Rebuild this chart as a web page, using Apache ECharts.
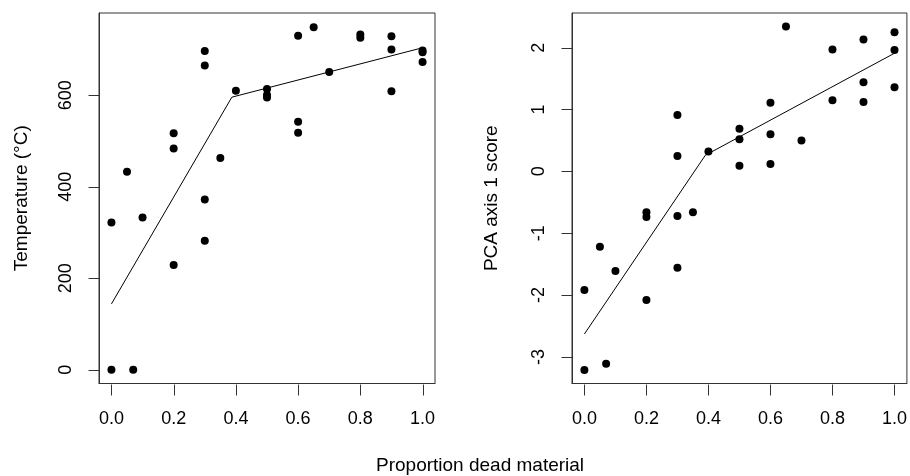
<!DOCTYPE html>
<html>
<head>
<meta charset="utf-8">
<script src="https://cdn.jsdelivr.net/npm/echarts@6/dist/echarts.min.js"></script>
<style>
html,body{margin:0;padding:0;background:#fff;}
#chart{width:910px;height:476px;}
</style>
</head>
<body>
<div id="chart"></div>
<script>
// ---- data ----
const xTicks = [0, 0.2, 0.4, 0.6, 0.8, 1.0];
const tempTicks = [0, 200, 400, 600];
const pcaTicks = [-3, -2, -1, 0, 1, 2];

const tempX = [0.0, 0.05, 0.1, 0.2, 0.2, 0.3, 0.3, 0.3, 0.3, 0.2, 0.0, 0.07, 0.35, 0.4, 0.5, 0.5, 0.5, 0.6, 0.6, 0.6, 0.65, 0.7, 0.8, 0.8, 0.9, 0.9, 0.9, 1.0, 1.0, 1.0];
const tempY = [322, 433, 333, 517, 484, 697, 665, 372, 282, 229, 0, 0, 463, 610, 614, 601, 595, 730, 542, 518, 749, 651, 733, 726, 729, 700, 609, 698, 694, 673];
const tempFitX = [0.0, 0.387, 1.0];
const tempFitY = [144, 596, 704];

const pcaX = [0.65, 1.0, 1.0, 1.0, 0.9, 0.9, 0.9, 0.8, 0.8, 0.6, 0.6, 0.6, 0.7, 0.5, 0.5, 0.5, 0.4, 0.3, 0.3, 0.3, 0.35, 0.2, 0.2, 0.05, 0.1, 0.3, 0.0, 0.2, 0.0, 0.07];
const pcaY = [2.34, 2.25, 1.96, 1.36, 2.13, 1.44, 1.12, 1.97, 1.15, 1.11, 0.60, 0.12, 0.50, 0.69, 0.52, 0.09, 0.32, 0.91, 0.25, -0.72, -0.66, -0.66, -0.74, -1.22, -1.61, -1.56, -1.92, -2.08, -3.21, -3.11];
const pcaFitX = [0.0, 0.39, 1.0];
const pcaFitY = [-2.63, 0.26, 1.91];

// ---- chart ----
const FONT = 'Liberation Sans, Arial, sans-serif';
const FS = 18;
const TFS = 19;
const txt = '#000';
const axisCol = '#333';
const TICK = 11;
const xRange = [-0.04, 1.04];
const tempRange = [-30, 780];
const pcaRange = [-3.43, 2.56];

function zip(a, b) { return a.map((v, i) => [v, b[i]]); }

function xAxisCfg(gridIndex) {
  return {
    type: 'value', gridIndex, min: xRange[0], max: xRange[1],
    axisLine: { show: true, onZero: false, lineStyle: { color: axisCol, width: 1 } },
    splitLine: { show: false },
    axisTick: { show: false },
    axisLabel: { show: true, customValues: xTicks, margin: 27, color: txt, fontFamily: FONT, fontSize: FS,
      formatter: v => v.toFixed(1) }
  };
}
function yAxisCfg(gridIndex, range, ticks, name, gap) {
  return {
    type: 'value', gridIndex, min: range[0], max: range[1],
    name, nameLocation: 'middle', nameGap: gap,
    nameTextStyle: { color: txt, fontFamily: FONT, fontSize: TFS },
    axisLine: { show: true, onZero: false, lineStyle: { color: axisCol, width: 1 } },
    splitLine: { show: false },
    axisTick: { show: false },
    axisLabel: { show: true, customValues: ticks, margin: 24, rotate: 90, color: txt, fontFamily: FONT, fontSize: FS,
      formatter: v => String(v) }
  };
}

// tick marks: custom series, positioned through the axes' own scales
function tickSeries(idx, dir, values, edge) {
  return {
    type: 'custom', xAxisIndex: idx, yAxisIndex: idx, silent: true, clip: false, z: 10,
    data: values.map(v => dir === 'x' ? [v, edge] : [edge, v]),
    renderItem: function (params, api) {
      const p = api.coord([api.value(0), api.value(1)]);
      const x = Math.round(p[0]) + 0.5, y = Math.round(p[1]) + 0.5;
      const shape = dir === 'x'
        ? { x1: x, y1: y, x2: x, y2: y + TICK }
        : { x1: x - TICK, y1: y, x2: x, y2: y };
      return { type: 'line', shape, style: { stroke: axisCol, lineWidth: 1 } };
    }
  };
}

const chart = echarts.init(document.getElementById('chart'), null, { renderer: 'canvas' });
chart.setOption({
  animation: false,
  backgroundColor: '#fff',
  grid: [
    { left: 99, right: 475, top: 13, bottom: 92.5, show: true, borderColor: axisCol, borderWidth: 1, backgroundColor: 'transparent' },
    { left: 572, right: 1, top: 13, bottom: 92.5, show: true, borderColor: axisCol, borderWidth: 1, backgroundColor: 'transparent' }
  ],
  xAxis: [xAxisCfg(0), xAxisCfg(1)],
  yAxis: [
    yAxisCfg(0, tempRange, tempTicks, 'Temperature (°C)', 68),
    yAxisCfg(1, pcaRange, pcaTicks, 'PCA axis 1 score', 71)
  ],
  graphic: [{
    type: 'text', left: 376, top: 456,
    style: { text: 'Proportion dead material', fill: txt, font: TFS + 'px ' + FONT }
  }],
  series: [
    tickSeries(0, 'x', xTicks, tempRange[0]),
    tickSeries(0, 'y', tempTicks, xRange[0]),
    tickSeries(1, 'x', xTicks, pcaRange[0]),
    tickSeries(1, 'y', pcaTicks, xRange[0]),
    { type: 'scatter', xAxisIndex: 0, yAxisIndex: 0, data: zip(tempX, tempY), symbolSize: 8, itemStyle: { color: '#000', opacity: 1 } },
    { type: 'line', xAxisIndex: 0, yAxisIndex: 0, data: zip(tempFitX, tempFitY), showSymbol: false, lineStyle: { color: '#000', width: 1 } },
    { type: 'scatter', xAxisIndex: 1, yAxisIndex: 1, data: zip(pcaX, pcaY), symbolSize: 8, itemStyle: { color: '#000', opacity: 1 } },
    { type: 'line', xAxisIndex: 1, yAxisIndex: 1, data: zip(pcaFitX, pcaFitY), showSymbol: false, lineStyle: { color: '#000', width: 1 } }
  ]
});
</script>
</body>
</html>
